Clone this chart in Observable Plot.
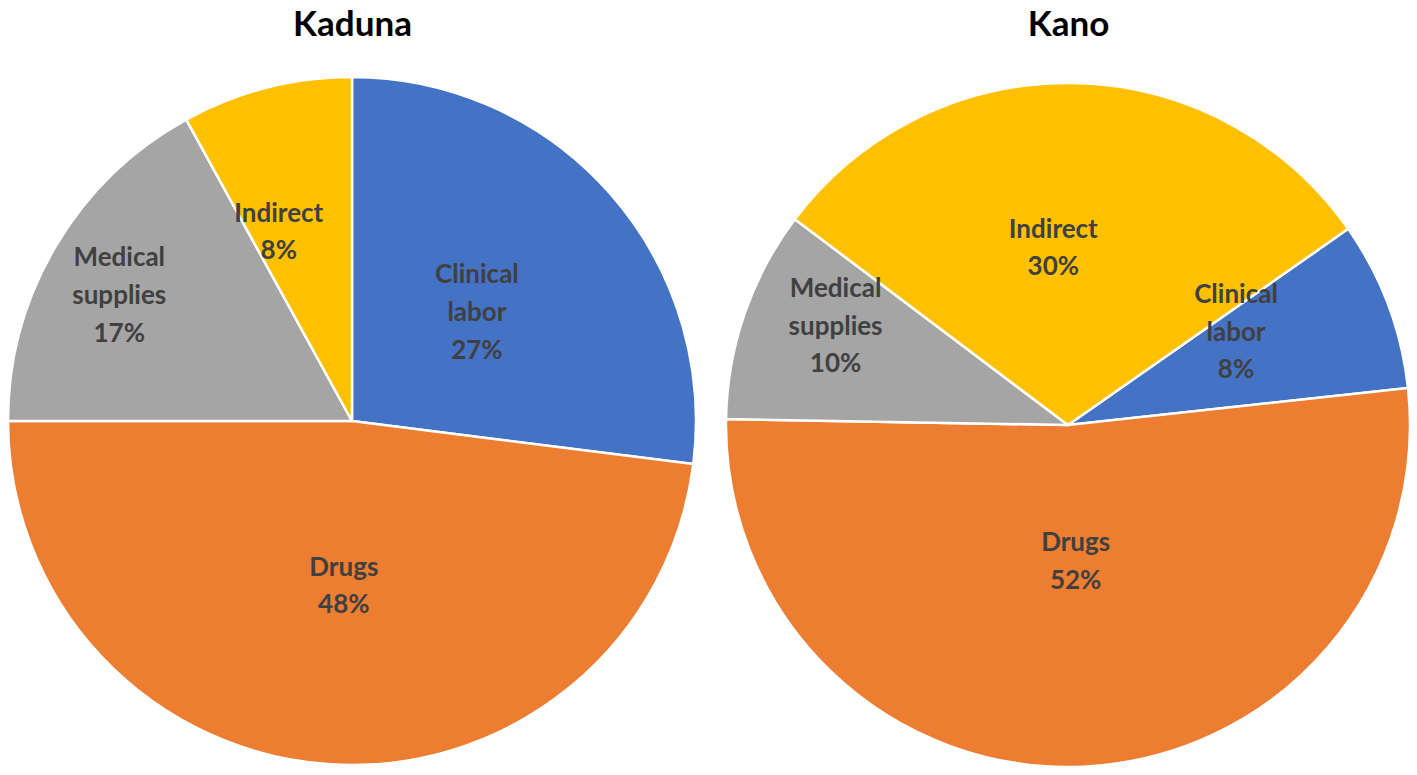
<!DOCTYPE html>
<html><head><meta charset="utf-8">
<script src="https://cdn.jsdelivr.net/npm/d3@7"></script>
<script src="https://cdn.jsdelivr.net/npm/@observablehq/plot@0.6"></script>
<style>
body{margin:0;background:#fff;font-family:Lato,"Open Sans",sans-serif}
#wrap{position:relative;width:1417px;height:775px;overflow:hidden}
#wrap svg{position:absolute;top:0}
</style></head><body><div id="wrap"></div>
<script>
// ---- data ----
const categories = ["Clinical labor", "Drugs", "Medical supplies", "Indirect"];
const regions = ["Kaduna", "Kano"];
const kadunaShares = [27, 48, 17, 8];
const kanoShares = [8, 52, 10, 30];
const labelNames = ["Clinical\nlabor", "Drugs", "Medical\nsupplies", "Indirect"];

// ---- styles / layout ----
const colors = ["#4472C4", "#ED7D31", "#A5A5A5", "#FFC000"];
const layouts = [
  {left: 0, width: 708, cx: 352, cy: 421, r: 344, start: 0,
   label: [[48.9, 0.48], [183, 0.48], [298.3, 0.77], [338.7, 0.59]]},
  {left: 708, width: 709, cx: 1068, cy: 425, r: 342, start: 55,
   label: [[61, 0.56], [177, 0.40], [293, 0.74], [-4.9, 0.52]]}
];
const colorOf = d3.scaleOrdinal(categories, colors);
const wrap = document.getElementById("wrap");

[kadunaShares, kanoShares].forEach((shares, i) => {
  const L = layouts[i];
  const rows = categories.map((c, k) => ({
    category: c, share: shares[k],
    text: labelNames[k] + "\n" + shares[k] + "%",
    lx: L.label[k][1] * Math.sin(L.label[k][0] * Math.PI / 180),
    ly: L.label[k][1] * Math.cos(L.label[k][0] * Math.PI / 180)
  }));
  const a0 = L.start * Math.PI / 180;
  const lcx = L.cx - L.left;
  const chart = Plot.plot({
    width: L.width, height: 775,
    margin: 0,
    x: {domain: [-1, 1], range: [lcx - L.r, lcx + L.r], axis: null},
    y: {domain: [-1, 1], range: [L.cy + L.r, L.cy - L.r], axis: null},
    marks: [
      (index, scales) => {
        const X = scales.x, Y = scales.y;
        const r = X(1) - X(0);
        const arcs = d3.pie().sort(null).value(d => d.share)
          .startAngle(a0).endAngle(a0 + 2 * Math.PI)(rows);
        const g = d3.create("svg:g").attr("transform", `translate(${X(0)},${Y(0)})`);
        g.selectAll("path").data(arcs).join("path")
          .attr("d", d3.arc().innerRadius(0).outerRadius(r))
          .attr("fill", d => colorOf(d.data.category))
          .attr("stroke", "white").attr("stroke-width", 2.5)
          .attr("stroke-linejoin", "round");
        return g.node();
      },
      Plot.text(rows, {x: "lx", y: "ly", text: "text", fill: "#404040",
        fontSize: 26, fontWeight: "bold", lineHeight: 1.45, dy: -4,
        fontFamily: "Lato, 'Open Sans', sans-serif"}),
      Plot.text([regions[i]], {x: [0], frameAnchor: "top", dy: 24,
        lineAnchor: "middle", fontSize: 35, fontWeight: "bold", fill: "#000",
        fontFamily: "Lato, 'Open Sans', sans-serif"})
    ]
  });
  chart.style.left = L.left + "px";
  wrap.appendChild(chart);
});
</script>
</body></html>
